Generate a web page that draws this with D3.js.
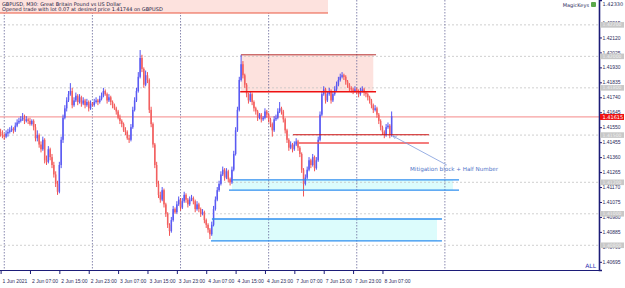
<!DOCTYPE html>
<html>
<head>
<meta charset="utf-8">
<script src="https://cdn.jsdelivr.net/npm/d3@7"></script>
<style>
  body { margin: 0; background: #fff; }
  svg { display: block; font-family: Tahoma, "DejaVu Sans", sans-serif; }
  .axis path, .axis line { stroke: #1c1c78; }
  .axis text { fill: #2a2a5a; font-size: 5px; }
</style>
</head>
<body>
<script>
// chart frame
const width = 625;
const height = 288;
const plotRight = 599;
const plotBottom = 270;

// GBPUSD M30 bars, bar 0 = 1 Jun 23:00
const opens = [
1.4152,1.4151,1.4150,1.4149,1.4151,1.4152,1.4153,1.4154,1.4153,1.4156,
1.4158,1.4159,1.4160,1.4161,1.4159,1.4160,1.4159,1.4157,1.4159,1.4155,
1.4148,1.4150,1.4144,1.4141,1.4147,1.4134,1.4133,1.4141,1.4136,1.4131,
1.4125,1.4119,1.4114,1.4131,1.4147,1.4161,1.4167,1.4172,1.4176,1.4178,
1.4169,1.4172,1.4175,1.4171,1.4174,1.4170,1.4172,1.4169,1.4171,1.4167,
1.4170,1.4169,1.4171,1.4172,1.4171,1.4173,1.4175,1.4178,1.4176,1.4172,
1.4174,1.4171,1.4169,1.4167,1.4165,1.4161,1.4159,1.4157,1.4153,1.4152,
1.4148,1.4147,1.4155,1.4166,1.4172,1.4178,1.4187,1.4199,1.4192,1.4182,
1.4188,1.4185,1.4166,1.4157,1.4144,1.4131,1.4119,1.4112,1.4109,1.4115,
1.4106,1.4100,1.4093,1.4089,1.4096,1.4103,1.4101,1.4106,1.4109,1.4104,
1.4108,1.4112,1.4109,1.4106,1.4109,1.4110,1.4108,1.4103,1.4106,1.4103,
1.4100,1.4101,1.4096,1.4093,1.4090,1.4087,1.4093,1.4103,1.4109,1.4115,
1.4119,1.4125,1.4128,1.4123,1.4127,1.4122,1.4120,1.4128,1.4138,1.4153,
1.4166,1.4185,1.4195,1.4188,1.4182,1.4176,1.4172,1.4176,1.4171,1.4167,
1.4165,1.4161,1.4163,1.4160,1.4161,1.4165,1.4163,1.4160,1.4157,1.4153,
1.4160,1.4161,1.4165,1.4167,1.4165,1.4160,1.4153,1.4147,1.4142,1.4144,
1.4141,1.4144,1.4146,1.4142,1.4138,1.4128,1.4119,1.4123,1.4128,1.4134,
1.4131,1.4136,1.4129,1.4134,1.4147,1.4163,1.4176,1.4179,1.4172,1.4176,
1.4178,1.4172,1.4176,1.4179,1.4182,1.4185,1.4187,1.4188,1.4187,1.4184,
1.4182,1.4180,1.4179,1.4178,1.4179,1.4178,1.4176,1.4178,1.4179,1.4177,
1.4176,1.4174,1.4172,1.4169,1.4166,1.4167,1.4163,1.4159,1.4155,1.4152,
1.4150,1.4155,1.4156,1.4150];

const highs = [
1.4154,1.4153,1.4151,1.4153,1.4154,1.4155,1.4156,1.4155,1.4158,1.4160,
1.4161,1.4162,1.4164,1.4163,1.4162,1.4161,1.4161,1.4160,1.4160,1.4157,
1.4153,1.4151,1.4146,1.4149,1.4148,1.4137,1.4143,1.4142,1.4138,1.4133,
1.4127,1.4121,1.4133,1.4149,1.4163,1.4169,1.4174,1.4178,1.4183,1.4180,
1.4174,1.4177,1.4176,1.4176,1.4175,1.4174,1.4173,1.4173,1.4172,1.4172,
1.4171,1.4173,1.4174,1.4173,1.4175,1.4177,1.4180,1.4179,1.4177,1.4176,
1.4175,1.4172,1.4170,1.4168,1.4166,1.4163,1.4160,1.4158,1.4155,1.4153,
1.4150,1.4157,1.4168,1.4174,1.4180,1.4190,1.4204,1.4201,1.4193,1.4191,
1.4190,1.4186,1.4168,1.4158,1.4145,1.4133,1.4121,1.4114,1.4117,1.4116,
1.4107,1.4101,1.4094,1.4098,1.4105,1.4104,1.4108,1.4111,1.4110,1.4110,
1.4114,1.4113,1.4110,1.4111,1.4112,1.4111,1.4109,1.4108,1.4107,1.4104,
1.4103,1.4102,1.4097,1.4094,1.4091,1.4095,1.4105,1.4111,1.4117,1.4121,
1.4127,1.4130,1.4129,1.4129,1.4128,1.4123,1.4130,1.4140,1.4155,1.4168,
1.4187,1.4201,1.4197,1.4189,1.4183,1.4177,1.4178,1.4177,1.4172,1.4168,
1.4166,1.4164,1.4164,1.4162,1.4167,1.4166,1.4164,1.4161,1.4158,1.4162,
1.4163,1.4167,1.4171,1.4168,1.4166,1.4161,1.4154,1.4148,1.4146,1.4145,
1.4146,1.4148,1.4147,1.4143,1.4139,1.4129,1.4125,1.4130,1.4136,1.4135,
1.4138,1.4137,1.4136,1.4149,1.4165,1.4178,1.4181,1.4180,1.4178,1.4180,
1.4179,1.4178,1.4181,1.4184,1.4187,1.4189,1.4190,1.4189,1.4188,1.4185,
1.4183,1.4181,1.4180,1.4181,1.4180,1.4179,1.4180,1.4181,1.4180,1.4178,
1.4177,1.4175,1.4173,1.4170,1.4169,1.4168,1.4164,1.4160,1.4156,1.4153,
1.4157,1.4158,1.4157,1.4165];

const lows = [
1.4149,1.4148,1.4147,1.4148,1.4149,1.4151,1.4152,1.4151,1.4152,1.4155,
1.4157,1.4158,1.4159,1.4157,1.4158,1.4157,1.4156,1.4156,1.4153,1.4146,
1.4146,1.4142,1.4139,1.4140,1.4132,1.4131,1.4132,1.4134,1.4129,1.4123,
1.4117,1.4112,1.4113,1.4129,1.4145,1.4160,1.4165,1.4171,1.4175,1.4167,
1.4168,1.4171,1.4169,1.4170,1.4168,1.4169,1.4167,1.4168,1.4165,1.4166,
1.4168,1.4168,1.4170,1.4169,1.4170,1.4172,1.4174,1.4175,1.4170,1.4171,
1.4169,1.4167,1.4166,1.4163,1.4160,1.4157,1.4155,1.4152,1.4150,1.4147,
1.4145,1.4146,1.4154,1.4165,1.4171,1.4177,1.4186,1.4190,1.4180,1.4181,
1.4183,1.4164,1.4155,1.4142,1.4129,1.4117,1.4110,1.4107,1.4108,1.4104,
1.4098,1.4091,1.4086,1.4088,1.4095,1.4100,1.4100,1.4105,1.4102,1.4103,
1.4107,1.4107,1.4104,1.4105,1.4108,1.4106,1.4101,1.4102,1.4101,1.4098,
1.4099,1.4094,1.4091,1.4088,1.4084,1.4086,1.4092,1.4102,1.4108,1.4114,
1.4118,1.4124,1.4121,1.4122,1.4120,1.4118,1.4119,1.4127,1.4137,1.4152,
1.4165,1.4184,1.4186,1.4180,1.4174,1.4170,1.4171,1.4169,1.4165,1.4163,
1.4159,1.4160,1.4158,1.4159,1.4160,1.4161,1.4158,1.4155,1.4149,1.4152,
1.4159,1.4160,1.4164,1.4163,1.4158,1.4151,1.4145,1.4140,1.4141,1.4139,
1.4140,1.4143,1.4140,1.4136,1.4126,1.4111,1.4118,1.4122,1.4127,1.4129,
1.4130,1.4127,1.4128,1.4133,1.4146,1.4162,1.4175,1.4170,1.4171,1.4175,
1.4170,1.4171,1.4175,1.4178,1.4181,1.4184,1.4186,1.4185,1.4182,1.4180,
1.4178,1.4177,1.4176,1.4177,1.4176,1.4174,1.4175,1.4177,1.4175,1.4174,
1.4172,1.4170,1.4167,1.4164,1.4165,1.4161,1.4157,1.4153,1.4150,1.4148,
1.4149,1.4154,1.4148,1.4149];

const closes = [
1.4151,1.4150,1.4149,1.4151,1.4152,1.4153,1.4154,1.4153,1.4156,1.4158,
1.4159,1.4160,1.4161,1.4159,1.4160,1.4159,1.4157,1.4159,1.4155,1.4148,
1.4150,1.4144,1.4141,1.4147,1.4134,1.4133,1.4141,1.4136,1.4131,1.4125,
1.4119,1.4114,1.4131,1.4147,1.4161,1.4167,1.4172,1.4176,1.4178,1.4169,
1.4172,1.4175,1.4171,1.4174,1.4170,1.4172,1.4169,1.4171,1.4167,1.4170,
1.4169,1.4171,1.4172,1.4171,1.4173,1.4175,1.4178,1.4176,1.4172,1.4174,
1.4171,1.4169,1.4167,1.4165,1.4161,1.4159,1.4157,1.4153,1.4152,1.4148,
1.4147,1.4155,1.4166,1.4172,1.4178,1.4187,1.4199,1.4192,1.4182,1.4188,
1.4185,1.4166,1.4157,1.4144,1.4131,1.4119,1.4112,1.4109,1.4115,1.4106,
1.4100,1.4093,1.4089,1.4096,1.4103,1.4101,1.4106,1.4109,1.4104,1.4108,
1.4112,1.4109,1.4106,1.4109,1.4110,1.4108,1.4103,1.4106,1.4103,1.4100,
1.4101,1.4096,1.4093,1.4090,1.4087,1.4093,1.4103,1.4109,1.4115,1.4119,
1.4125,1.4128,1.4123,1.4127,1.4122,1.4120,1.4128,1.4138,1.4153,1.4166,
1.4185,1.4195,1.4188,1.4182,1.4176,1.4172,1.4176,1.4171,1.4167,1.4165,
1.4161,1.4163,1.4160,1.4161,1.4165,1.4163,1.4160,1.4157,1.4153,1.4160,
1.4161,1.4165,1.4167,1.4165,1.4160,1.4153,1.4147,1.4142,1.4144,1.4141,
1.4144,1.4146,1.4142,1.4138,1.4128,1.4119,1.4123,1.4128,1.4134,1.4131,
1.4136,1.4129,1.4134,1.4147,1.4163,1.4176,1.4179,1.4172,1.4176,1.4178,
1.4172,1.4176,1.4179,1.4182,1.4185,1.4187,1.4188,1.4187,1.4184,1.4182,
1.4180,1.4179,1.4178,1.4179,1.4178,1.4176,1.4178,1.4179,1.4177,1.4176,
1.4174,1.4172,1.4169,1.4166,1.4167,1.4163,1.4159,1.4155,1.4152,1.4150,
1.4155,1.4156,1.4150,1.4162];

// time axis: bar index of each label
const timeTickBars = [0,16,32,48,64,80,96,112,128,144,160,176,192,208];
const timeTickLabels = ["1 Jun 2021","2 Jun 07:00","2 Jun 15:00","2 Jun 23:00","3 Jun 07:00","3 Jun 15:00",
  "3 Jun 23:00","4 Jun 07:00","4 Jun 15:00","4 Jun 23:00","7 Jun 07:00","7 Jun 15:00","7 Jun 23:00","8 Jun 07:00"];
const daySeparators = [2, 50, 98, 146, 194, 242];

// price axis
const priceTicks = [1.42215,1.42120,1.42025,1.41930,1.41835,1.41740,1.41645,1.41550,1.41455,
  1.41360,1.41265,1.41170,1.41075,1.40980,1.40885,1.40790,1.40695];
const chartMax = 1.42330;
const roundLevels = [1.4220, 1.4200, 1.4180, 1.4150, 1.4120, 1.4100, 1.4080];
const currentPrice = 1.41615;

// drawn objects
const supplyZone = {from: 131, to: 203, top: 1.42010, bottom: 1.41775};
const supplyLines = [
  {from: 131, to: 204.5, price: 1.42010, color: "#b02020", w: 0.9},
  {from: 130.5, to: 204.5, price: 1.41775, color: "#ee1111", w: 1.4}
];
const mitigationLines = [
  {from: 159.3, to: 233.3, price: 1.41502, color: "#cc1010", w: 1.0},
  {from: 162.5, to: 233.3, price: 1.41450, color: "#f05050", w: 1.4}
];
const demandZones = [
  {from: 126, to: 246.4, top: 1.41215, bottom: 1.41150},
  {from: 115.1, to: 237.7, top: 1.40967, bottom: 1.40828}
];
const demandLines = [
  {from: 126, to: 249.7, price: 1.41215},
  {from: 124.4, to: 249.7, price: 1.41150},
  {from: 115.1, to: 240.4, price: 1.40967},
  {from: 114.6, to: 240.4, price: 1.40828}
];
const note = {fromBar: 243, fromPrice: 1.41310, toBar: 213.7, toPrice: 1.41494,
  textBar: 223, textPrice: 1.41270, text: "Mitigation block + Half Number"};

// scales
const xScale = d3.scaleLinear().domain([0, 326]).range([0.6, 599.1]);
const yScale = d3.scaleLinear().domain([1.40643, 1.42358]).range([plotBottom, 0]);

const svg = d3.select("body").append("svg")
  .attr("width", width)
  .attr("height", height);

svg.append("defs").append("marker")
  .attr("id", "arrow")
  .attr("viewBox", "0 0 10 10")
  .attr("refX", 9).attr("refY", 5)
  .attr("markerWidth", 5).attr("markerHeight", 5)
  .attr("orient", "auto")
  .append("path")
  .attr("d", "M0,1 L10,5 L0,9")
  .attr("fill", "none")
  .attr("stroke", "#6f8fd8")
  .attr("stroke-width", 1.5);

// zones (behind everything)
svg.append("rect")
  .attr("x", xScale(supplyZone.from))
  .attr("y", yScale(supplyZone.top))
  .attr("width", xScale(supplyZone.to) - xScale(supplyZone.from))
  .attr("height", yScale(supplyZone.bottom) - yScale(supplyZone.top))
  .attr("fill", "#fde2de");

svg.selectAll(".demand")
  .data(demandZones)
  .join("rect")
  .attr("x", d => xScale(d.from))
  .attr("y", d => yScale(d.top))
  .attr("width", d => xScale(d.to) - xScale(d.from))
  .attr("height", d => yScale(d.bottom) - yScale(d.top))
  .attr("fill", "#dcfcfc");

// round number levels
svg.selectAll(".level")
  .data(roundLevels)
  .join("line")
  .attr("x1", 0).attr("x2", plotRight)
  .attr("y1", d => yScale(d)).attr("y2", d => yScale(d))
  .attr("stroke", "#c4c4c4")
  .attr("stroke-width", 0.8)
  .attr("stroke-dasharray", "2,2");

// period separators
svg.selectAll(".sep")
  .data(daySeparators)
  .join("line")
  .attr("x1", d => xScale(d)).attr("x2", d => xScale(d))
  .attr("y1", 0).attr("y2", plotBottom)
  .attr("stroke", "#6a6a9a")
  .attr("stroke-width", 0.8)
  .attr("stroke-dasharray", "1.5,1.5");

// current price line
svg.append("line")
  .attr("x1", 0).attr("x2", plotRight)
  .attr("y1", yScale(currentPrice)).attr("y2", yScale(currentPrice))
  .attr("stroke", "#f7a0a0")
  .attr("stroke-width", 1.2);

// candles
const bars = d3.range(closes.length);
const bodyW = 1.5;

svg.selectAll(".wick")
  .data(bars)
  .join("line")
  .attr("x1", i => xScale(i)).attr("x2", i => xScale(i))
  .attr("y1", i => yScale(highs[i])).attr("y2", i => yScale(lows[i]))
  .attr("stroke", i => closes[i] >= opens[i] ? "#2828f0" : "#f02828")
  .attr("stroke-width", 0.8);

svg.selectAll(".body")
  .data(bars)
  .join("rect")
  .attr("x", i => xScale(i) - bodyW / 2)
  .attr("y", i => yScale(Math.max(opens[i], closes[i])))
  .attr("width", bodyW)
  .attr("height", i => Math.max(0.8, Math.abs(yScale(opens[i]) - yScale(closes[i]))))
  .attr("fill", i => closes[i] >= opens[i] ? "#5a5af2" : "#f26060");

// supply / mitigation / demand lines
svg.selectAll(".sline")
  .data(supplyLines.concat(mitigationLines))
  .join("line")
  .attr("x1", d => xScale(d.from)).attr("x2", d => xScale(d.to))
  .attr("y1", d => yScale(d.price)).attr("y2", d => yScale(d.price))
  .attr("stroke", d => d.color)
  .attr("stroke-width", d => d.w);

svg.selectAll(".dline")
  .data(demandLines)
  .join("line")
  .attr("x1", d => xScale(d.from)).attr("x2", d => xScale(d.to))
  .attr("y1", d => yScale(d.price)).attr("y2", d => yScale(d.price))
  .attr("stroke", "#2f8fef")
  .attr("stroke-width", 1.3);

// note arrow + text
svg.append("line")
  .attr("x1", xScale(note.fromBar)).attr("y1", yScale(note.fromPrice))
  .attr("x2", xScale(note.toBar)).attr("y2", yScale(note.toPrice))
  .attr("stroke", "#7d9bdc")
  .attr("stroke-width", 0.8)
  .attr("marker-end", "url(#arrow)");

svg.append("text")
  .attr("x", xScale(note.textBar))
  .attr("y", yScale(note.textPrice))
  .attr("font-size", "5.6px")
  .attr("fill", "#4f74c8")
  .text(note.text);

// header banner
svg.append("rect")
  .attr("x", 0).attr("y", 0)
  .attr("width", 328).attr("height", 13)
  .attr("fill", "#fde2de");
svg.append("line")
  .attr("x1", 0).attr("x2", 328)
  .attr("y1", 13).attr("y2", 13)
  .attr("stroke", "#e8452a")
  .attr("stroke-width", 0.9);
svg.append("text")
  .attr("x", 2).attr("y", 5.5)
  .attr("font-size", "5px")
  .attr("fill", "#1a1a40")
  .text("GBPUSD, M30:  Great Britain Pound vs US Dollar");
svg.append("text")
  .attr("x", 2).attr("y", 11)
  .attr("font-size", "5px")
  .attr("fill", "#1a1a40")
  .text("Opened trade with lot 0.07 at desired price 1.41744 on GBPUSD");

// MagicKeys tag
svg.append("text")
  .attr("x", 589).attr("y", 6.5)
  .attr("text-anchor", "end")
  .attr("font-size", "5px")
  .attr("fill", "#2a2a5a")
  .text("MagicKeys");
svg.append("rect")
  .attr("x", 591).attr("y", 2).attr("width", 5).attr("height", 5)
  .attr("rx", 1)
  .attr("fill", "#5aa84a");

// price axis
const rightAxis = d3.axisRight(yScale)
  .tickValues(priceTicks)
  .tickSize(3)
  .tickFormat(d3.format(".5f"));

svg.append("g")
  .attr("class", "axis")
  .attr("transform", "translate(" + plotRight + ",0)")
  .call(rightAxis)
  .call(g => g.select(".domain").attr("stroke-width", 1.6))
  .call(g => g.selectAll("text").attr("x", 3.5));

svg.append("text")
  .attr("x", plotRight + 3.5)
  .attr("y", yScale(chartMax))
  .attr("dy", "0.32em")
  .attr("font-size", "5px")
  .attr("fill", "#2a2a5a")
  .text(d3.format(".5f")(chartMax));

// level price tags (drawn over the tick labels, as on the terminal)
const tags = svg.selectAll(".tag")
  .data(roundLevels)
  .join("g")
  .attr("transform", d => "translate(" + (plotRight + 1) + "," + yScale(d) + ")");
tags.append("rect")
  .attr("x", 0).attr("y", -2.8)
  .attr("width", 24).attr("height", 5.6)
  .attr("fill", "#c8c8c8");
tags.append("text")
  .attr("x", 2.5).attr("dy", "0.34em")
  .attr("font-size", "4.6px")
  .attr("fill", "#eeeeee")
  .text(d => d3.format(".5f")(d));

// current price tag
const cur = svg.append("g")
  .attr("transform", "translate(" + (plotRight + 1) + "," + yScale(currentPrice) + ")");
cur.append("rect")
  .attr("x", 0).attr("y", -3)
  .attr("width", 24).attr("height", 6)
  .attr("fill", "#ee1111");
cur.append("text")
  .attr("x", 2.5).attr("dy", "0.34em")
  .attr("font-size", "5px")
  .attr("fill", "#ffffff")
  .text(d3.format(".5f")(currentPrice));

// time axis
const bottomAxis = d3.axisBottom(xScale)
  .tickValues(timeTickBars)
  .tickSize(4)
  .tickFormat((d, i) => timeTickLabels[i]);

svg.append("g")
  .attr("class", "axis")
  .attr("transform", "translate(0," + plotBottom + ")")
  .call(bottomAxis)
  .call(g => g.select(".domain").attr("d", "M0,0.5H" + plotRight))
  .call(g => g.selectAll("text")
    .attr("text-anchor", "start")
    .attr("x", 1.5)
    .attr("y", 9));

svg.append("text")
  .attr("x", 596).attr("y", 268)
  .attr("text-anchor", "end")
  .attr("font-size", "6px")
  .attr("fill", "#3030b0")
  .text("ALL");
</script>
</body>
</html>
